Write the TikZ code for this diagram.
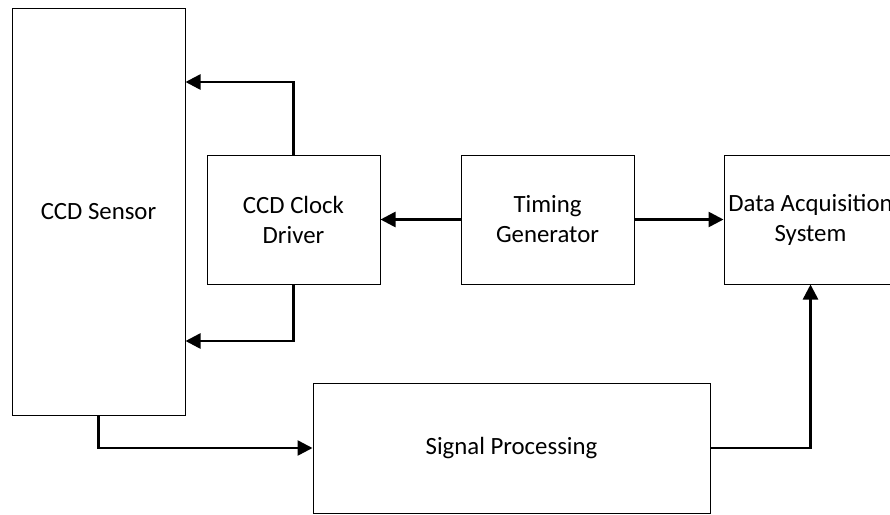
\documentclass[tikz,border=0pt]{standalone}
\usepackage{fontspec}
\setmainfont{Carlito}
\usepackage{tikz}
\usetikzlibrary{arrows.meta}

\tikzset{
    blk/.style={draw, line width=1pt, inner sep=0pt, align=center,
        minimum width=173pt, minimum height=129pt,
        font=\fontsize{24.8}{30}\selectfont},
    arr/.style={line width=2.6pt, -{Triangle[length=15pt,width=15pt]}}
}

\begin{document}
\begin{tikzpicture}[x=1pt,y=-1pt]
    \useasboundingbox (0,0) rectangle (890,514);

    % blocks
    \node[blk, minimum height=407pt] (sensor) at (98.5,211.5) {CCD Sensor};
    \node[blk] (driver) at (293.5,219.5) {CCD Clock\\Driver};
    \node[blk] (timing) at (547.5,219.5) {Timing\\Generator};
    \node[blk] (daq) at (810.5,219.5) {Data Acquisition\\System};
    \node[blk, minimum width=397pt, minimum height=130pt] (sigproc) at (511.5,448) {Signal Processing};

    % connections
    \draw[arr] (driver.north) |- (sensor.east |- 0,82);
    \draw[arr] (driver.south) |- (sensor.east |- 0,341);
    \draw[arr] (timing.west) -- (driver.east);
    \draw[arr] (timing.east) -- (daq.west);
    \draw[arr] (sensor.south) |- (sigproc.west);
    \draw[arr] (sigproc.east) -| (daq.south);
\end{tikzpicture}
\end{document}
